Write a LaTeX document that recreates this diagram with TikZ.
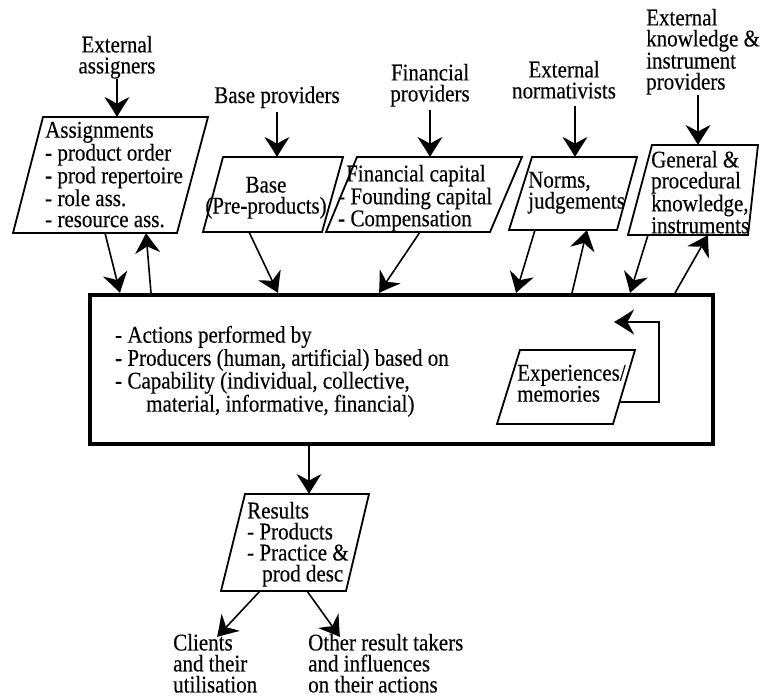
\documentclass[tikz,border=0pt]{standalone}
\usepackage{fontspec}
\setmainfont{Liberation Serif}[FakeStretch=0.875,FakeBold=0.3]
\usetikzlibrary{arrows.meta}
\pgfdeclarearrow{
  name = CWing,
  parameters = {\the\pgfarrowlength,\the\pgfarrowwidth},
  setup code = {
    \pgfarrowssettipend{0pt}
    \pgfarrowssetbackend{-\pgfarrowlength}
    \pgfarrowssetlineend{-0.6\pgfarrowlength}
    \pgfarrowssavethe\pgfarrowlength
    \pgfarrowssavethe\pgfarrowwidth
  },
  drawing code = {
    \pgfpathmoveto{\pgfqpoint{0pt}{0pt}}
    \pgfpathcurveto{\pgfqpoint{-0.33\pgfarrowlength}{0.15\pgfarrowwidth}}{\pgfqpoint{-0.70\pgfarrowlength}{0.35\pgfarrowwidth}}{\pgfqpoint{-\pgfarrowlength}{0.5\pgfarrowwidth}}
    \pgfpathcurveto{\pgfqpoint{-0.85\pgfarrowlength}{0.25\pgfarrowwidth}}{\pgfqpoint{-0.72\pgfarrowlength}{0.06\pgfarrowwidth}}{\pgfqpoint{-0.65\pgfarrowlength}{0pt}}
    \pgfpathcurveto{\pgfqpoint{-0.72\pgfarrowlength}{-0.06\pgfarrowwidth}}{\pgfqpoint{-0.85\pgfarrowlength}{-0.25\pgfarrowwidth}}{\pgfqpoint{-\pgfarrowlength}{-0.5\pgfarrowwidth}}
    \pgfpathcurveto{\pgfqpoint{-0.70\pgfarrowlength}{-0.35\pgfarrowwidth}}{\pgfqpoint{-0.33\pgfarrowlength}{-0.15\pgfarrowwidth}}{\pgfqpoint{0pt}{0pt}}
    \pgfpathclose
    \pgfusepathqfill
  },
  defaults = {length = 20pt, width = 25pt}
}
\begin{document}
\begin{tikzpicture}[x=1pt,y=-1pt,
  every node/.style={inner sep=0pt, font=\fontsize{24pt}{21pt}\selectfont},
  lbl/.style={align=left, anchor=north west},
  clbl/.style={align=center, anchor=north},
  para/.style={draw, line width=1.8pt, line join=miter},
  arr/.style={-{CWing[length=20pt,width=25pt]}, line width=1.6pt},
  mainbox/.style={draw, line width=3.8pt}]
\useasboundingbox (0,0) rectangle (760,697);

% ---------- parallelogram corners ----------
\coordinate (asTL) at (43,117);  \coordinate (asTR) at (208,117);
\coordinate (asBR) at (177,233); \coordinate (asBL) at (13,233);
\coordinate (baTL) at (223,157); \coordinate (baTR) at (343,157);
\coordinate (baBR) at (322,232); \coordinate (baBL) at (203,232);
\coordinate (fiTL) at (357,157); \coordinate (fiTR) at (522,157);
\coordinate (fiBR) at (490,232); \coordinate (fiBL) at (326,232);
\coordinate (noTL) at (532,157); \coordinate (noTR) at (637,157);
\coordinate (noBR) at (617,230); \coordinate (noBL) at (509,230);
\coordinate (geTL) at (652,145); \coordinate (geTR) at (758,145);
\coordinate (geBR) at (748,235); \coordinate (geBL) at (628,235);
\coordinate (exTL) at (520,350); \coordinate (exTR) at (635,350);
\coordinate (exBR) at (613,424); \coordinate (exBL) at (497,424);
\coordinate (reTL) at (245,494); \coordinate (reTR) at (369,494);
\coordinate (reBR) at (346,591); \coordinate (reBL) at (221,591);

\draw[para] (asTL) -- (asTR) -- (asBR) -- (asBL) -- cycle;
\draw[para] (baTL) -- (baTR) -- (baBR) -- (baBL) -- cycle;
\draw[para] (fiTL) -- (fiTR) -- (fiBR) -- (fiBL) -- cycle;
\draw[para] (noTL) -- (noTR) -- (noBR) -- (noBL) -- cycle;
\draw[para] (geTL) -- (geTR) -- (geBR) -- (geBL) -- cycle;
\draw[para] (reTL) -- (reTR) -- (reBR) -- (reBL) -- cycle;

% ---------- main box ----------
\node[mainbox, anchor=north west, minimum width=623pt, minimum height=149pt] (main) at (88,293) {};
\draw[para] (exTL) -- (exTR) -- (exBR) -- (exBL) -- cycle;

% ---------- texts ----------
\node[clbl] (extassign) at (117,35.6) {External\\assigners};
\node[anchor=base] (baseprov) at (277,103) {Base providers};
\node[clbl] (finprov) at (430,63.6) {Financial\\providers};
\node[clbl] (extnorm) at (564,60.6) {External\\normativists};
\node[lbl] (extknow) at (646,8.6) {External\\knowledge \&\\instrument\\providers};

\node[lbl] (assign) at (45,121.6) {Assignments\\- product order\\- prod repertoire\\- role ass.\\- resource ass.};
\node[clbl] (base) at (266,176.6) {Base\\(Pre-products)};
\node[lbl] (fin) at (338,164.6) {\hspace*{8pt}Financial capital\\- Founding capital\\- Compensation};
\node[lbl] (norms) at (528,171.6) {Norms,\\judgements};
\node[lbl] (general) at (651,150.6) {General \&\\procedural\\knowledge,\\instruments};

\node[lbl, font=\fontsize{24pt}{20.5pt}\selectfont] (maintext) at (115,325.6)
  {- Actions performed by\\- Producers (human, artificial) based on\\- Capability (individual, collective,\\\hspace*{31pt}material, informative, financial)};
\node[lbl] (exper) at (517,364.6) {Experiences/\\memories};

\node[lbl] (results) at (247,501.6) {Results\\- Products\\- Practice \&\\\hspace*{15pt}prod desc};
\node[lbl] (clients) at (173,633.6) {Clients\\and their\\utilisation};
\node[lbl] (other) at (308,633.6) {Other result takers\\and influences\\on their actions};

% ---------- connector end points ----------
\coordinate (asIn) at (117,117);
\coordinate (asOut) at (105,233); \coordinate (mAsIn) at (120,293);
\coordinate (mAsOut) at (151,293); \coordinate (asBack) at (146,233);
\coordinate (baIn) at (277,157);
\coordinate (baOut) at (249,232); \coordinate (mBaIn) at (278,293);
\coordinate (fiIn) at (430,157);
\coordinate (fiOut) at (420,232); \coordinate (mFiIn) at (379,293);
\coordinate (noIn) at (575,157);
\coordinate (noOut) at (535,230); \coordinate (mNoIn) at (516,293);
\coordinate (mNoOut) at (572,293); \coordinate (noBack) at (587,230);
\coordinate (geIn) at (698,145);
\coordinate (geOut) at (648,235); \coordinate (mGeIn) at (630,293);
\coordinate (mGeOut) at (675,293); \coordinate (geBack) at (708,235);
\coordinate (mOut) at (309,442); \coordinate (reIn) at (309,494);
\coordinate (reOutL) at (260,591); \coordinate (clIn) at (217,637);
\coordinate (reOutR) at (307,591); \coordinate (otIn) at (340,637);
\coordinate (exOut) at (619,402); \coordinate (fbA) at (659,402);
\coordinate (fbB) at (659,322); \coordinate (fbEnd) at (614,322);
\coordinate (baSrc) at (277,112); \coordinate (fiSrc) at (430,110);
\coordinate (noSrc) at (575,106); \coordinate (geSrc) at (698,95);

% ---------- connectors ----------
\draw[arr] (extassign.south) -- (asIn);
\draw[arr] (asOut) -- (mAsIn);
\draw[arr] (mAsOut) -- (asBack);
\draw[arr] (baSrc) -- (baIn);
\draw[arr] (baOut) -- (mBaIn);
\draw[arr] (fiSrc) -- (fiIn);
\draw[arr] (fiOut) -- (mFiIn);
\draw[arr] (noSrc) -- (noIn);
\draw[arr] (noOut) -- (mNoIn);
\draw[arr] (mNoOut) -- (noBack);
\draw[arr] (geSrc) -- (geIn);
\draw[arr] (geOut) -- (mGeIn);
\draw[arr] (mGeOut) -- (geBack);
\draw[arr] (mOut) -- (reIn);
\draw[arr] (reOutL) -- (clIn);
\draw[arr] (reOutR) -- (otIn);
\draw[arr] (exOut) -- (fbA) -- (fbB) -- (fbEnd);
\end{tikzpicture}
\end{document}
